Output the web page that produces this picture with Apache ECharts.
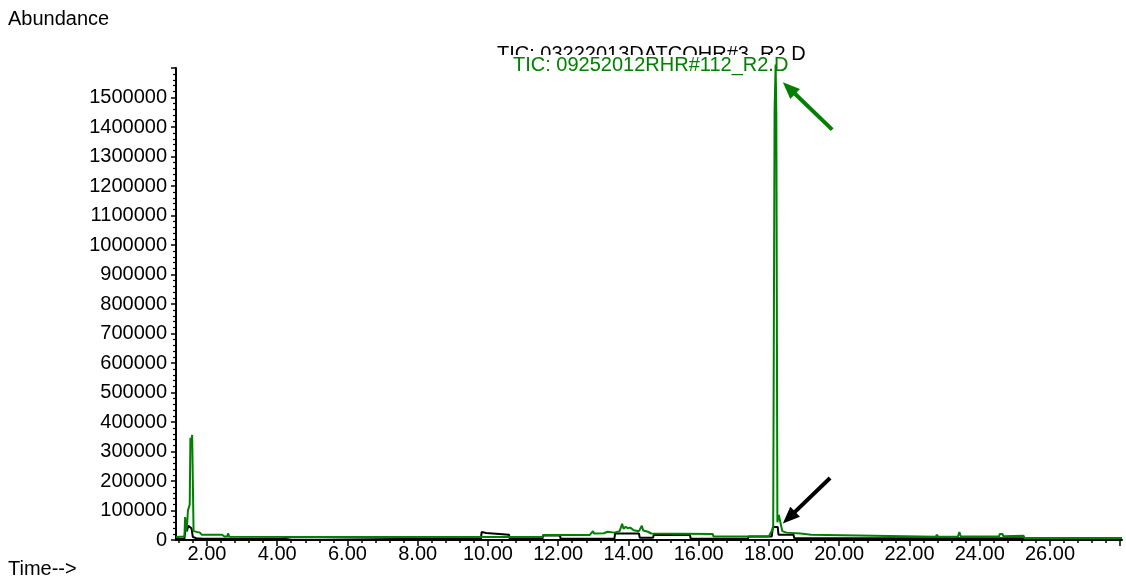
<!DOCTYPE html>
<html>
<head>
<meta charset="utf-8">
<script src="https://cdn.jsdelivr.net/npm/echarts@6/dist/echarts.min.js"></script>
<style>
  html, body { margin: 0; padding: 0; background: #ffffff; }
  #chart { width: 1126px; height: 579px; }
</style>
</head>
<body>
<div id="chart"></div>
<script>
// Total ion chromatograms: retention time (min) vs abundance
const traceNames = ['TIC: 03222013DATCOHR#3_R2.D', 'TIC: 09252012RHR#112_R2.D'];

// first run (black)
const runA = [
  [1.12, 4000], [1.36, 5000], [1.39, 40000], [1.43, 30000], [1.47, 48000],
  [1.52, 45000], [1.56, 40000], [1.60, 10000], [1.70, 6000], [1.90, 4000],
  [4.10, 4000], [4.12, 10000], [4.45, 10000], [4.47, 4000],
  [9.80, 4000], [9.82, 27000], [9.95, 24000], [10.00, 19000], [10.60, 18000], [10.62, 4000],
  [11.55, 4000], [11.57, 15000], [12.05, 15000], [12.07, 4000],
  [13.60, 5000], [13.62, 22000], [14.30, 22000], [14.32, 8000], [14.70, 8000],
  [14.72, 17000], [15.75, 17000], [15.77, 5000],
  [17.40, 4000], [17.42, 12000], [18.08, 12000], [18.11, 44000], [18.25, 44000],
  [18.27, 18000], [18.70, 18000], [18.72, 6000],
  [25.20, 6000], [25.22, 3000], [28.05, 3000]
];

// second run (green)
const runB = [
  [1.12, 10000], [1.36, 12000], [1.38, 78000], [1.41, 30000], [1.44, 60000],
  [1.46, 100000], [1.49, 95000], [1.51, 120000], [1.53, 346000], [1.56, 335000],
  [1.58, 356000], [1.62, 30000], [1.66, 27000], [1.80, 25000], [1.85, 18000],
  [2.43, 18000], [2.50, 12000], [2.58, 12000], [2.60, 22000], [2.64, 11000],
  [5.25, 10000], [5.28, 16000], [5.31, 10000],
  [6.53, 10000], [6.55, 15000], [6.58, 10000],
  [8.00, 10000], [8.02, 14000], [8.05, 10000],
  [11.55, 10000], [11.57, 17000], [12.90, 17000], [12.95, 22000], [12.99, 30000],
  [13.02, 22000], [13.30, 23000], [13.40, 28000], [13.44, 23000], [13.60, 25000],
  [13.75, 30000], [13.82, 55000], [13.86, 38000], [13.92, 45000], [13.98, 40000],
  [14.05, 42000], [14.15, 33000], [14.30, 30000], [14.38, 48000], [14.42, 32000],
  [14.55, 28000], [14.65, 22000], [14.70, 20000], [16.40, 20000], [16.42, 12000],
  [17.90, 12000], [18.00, 13000], [18.12, 40000], [18.16, 1455000], [18.19, 1612000],
  [18.21, 1450000], [18.24, 60000], [18.28, 85000], [18.33, 80000], [18.38, 30000],
  [18.50, 25000], [18.90, 22000], [19.20, 18000], [19.22, 12000],
  [22.75, 11000], [22.78, 18000], [22.82, 11000],
  [23.38, 12000], [23.42, 27000], [23.46, 12000],
  [24.55, 12000], [24.57, 20000], [24.65, 20000], [24.67, 13000],
  [25.25, 14000], [25.27, 7000], [28.05, 7000]
];

// axis ticks (minutes)
const timeMajorTicks = [2, 4, 6, 8, 10, 12, 14, 16, 18, 20, 22, 24, 26, 28];
const timeLabels = [2, 4, 6, 8, 10, 12, 14, 16, 18, 20, 22, 24, 26];
const timeRange = [1.12, 28.05];
const abundanceMax = 1600000;
const abundanceStep = 100000;

// pointer arrows: [tail, head] in (time, abundance)
const arrowB = [[19.80, 1391000], [18.57, 1532000]];
const arrowA = [[19.74, 210000], [18.57, 76000]];

// minor time ticks every 0.4 min between the labelled ones
const timeMinorTicks = [];
for (let k = 3; k <= 70; k++) {
  if (k % 5 !== 0) timeMinorTicks.push(+(k * 0.4).toFixed(1));
}

const GREEN = '#008000';
const FONT = 'Liberation Sans';

const chart = echarts.init(document.getElementById('chart'), null, { renderer: 'canvas' });

function arrowMark(pair, color) {
  return {
    silent: true,
    symbol: ['none', 'triangle'],
    symbolSize: [14, 17],
    label: { show: false },
    lineStyle: { color: color, width: 4, type: 'solid' },
    emphasis: { disabled: true },
    animation: false,
    data: [[{ coord: pair[0] }, { coord: pair[1] }]]
  };
}

chart.setOption({
  animation: false,
  backgroundColor: '#ffffff',
  textStyle: { fontFamily: FONT },
  title: [
    {
      text: traceNames[0],
      left: 497, top: 44, padding: 0, z: 1,
      textStyle: { color: '#000000', fontSize: 20, fontWeight: 'normal', fontFamily: FONT, lineHeight: 20 }
    },
    {
      text: traceNames[1],
      left: 495, top: 55, padding: [0, 2, 2, 18], z: 2,
      backgroundColor: '#ffffff',
      textStyle: { color: GREEN, fontSize: 20, fontWeight: 'normal', fontFamily: FONT, lineHeight: 20 }
    }
  ],
  graphic: [
    { type: 'text', left: 8, top: 9, style: { text: 'Abundance', fill: '#000', font: '20px "Liberation Sans"' } },
    { type: 'text', left: 8, top: 559, style: { text: 'Time-->', fill: '#000', font: '20px "Liberation Sans"' } }
  ],
  grid: { left: 176, right: 4, top: 68, bottom: 39 },
  xAxis: [
    {
      type: 'value', min: timeRange[0], max: timeRange[1],
      axisLine: { show: true, lineStyle: { color: '#000', width: 2 } },
      axisTick: { show: true, inside: false, length: 6, customValues: timeMajorTicks, lineStyle: { color: '#000', width: 1.5 } },
      axisLabel: {
        show: true, customValues: timeLabels, margin: 4,
        color: '#000', fontSize: 20, fontFamily: FONT,
        formatter: v => v.toFixed(2)
      },
      splitLine: { show: false }
    },
    {
      type: 'value', min: timeRange[0], max: timeRange[1], position: 'bottom',
      axisLine: { show: false },
      axisTick: { show: true, inside: false, length: 3, customValues: timeMinorTicks, lineStyle: { color: '#000', width: 1.5 } },
      axisLabel: { show: false },
      splitLine: { show: false }
    }
  ],
  yAxis: {
    type: 'value', min: 0, max: abundanceMax, interval: abundanceStep,
    axisLine: { show: true, lineStyle: { color: '#000', width: 2 } },
    axisTick: { show: true, inside: false, length: 5, lineStyle: { color: '#000', width: 1.5 } },
    minorTick: { show: true, splitNumber: 5, length: 3, lineStyle: { color: '#000', width: 1.2 } },
    axisLabel: {
      margin: 9, color: '#000', fontSize: 20, fontFamily: FONT,
      formatter: v => (v > 1500000 ? '' : String(v))
    },
    splitLine: { show: false },
    minorSplitLine: { show: false }
  },
  series: [
    {
      name: traceNames[0], type: 'line', data: runA, xAxisIndex: 0,
      showSymbol: false, symbol: 'none', z: 3, clip: false,
      lineStyle: { color: '#000000', width: 2 },
      emphasis: { disabled: true },
      markLine: arrowMark(arrowA, '#000000')
    },
    {
      name: traceNames[1], type: 'line', data: runB, xAxisIndex: 0,
      showSymbol: false, symbol: 'none', z: 4, clip: false,
      lineStyle: { color: GREEN, width: 2 },
      emphasis: { disabled: true },
      markLine: arrowMark(arrowB, GREEN)
    }
  ]
});
</script>
</body>
</html>
